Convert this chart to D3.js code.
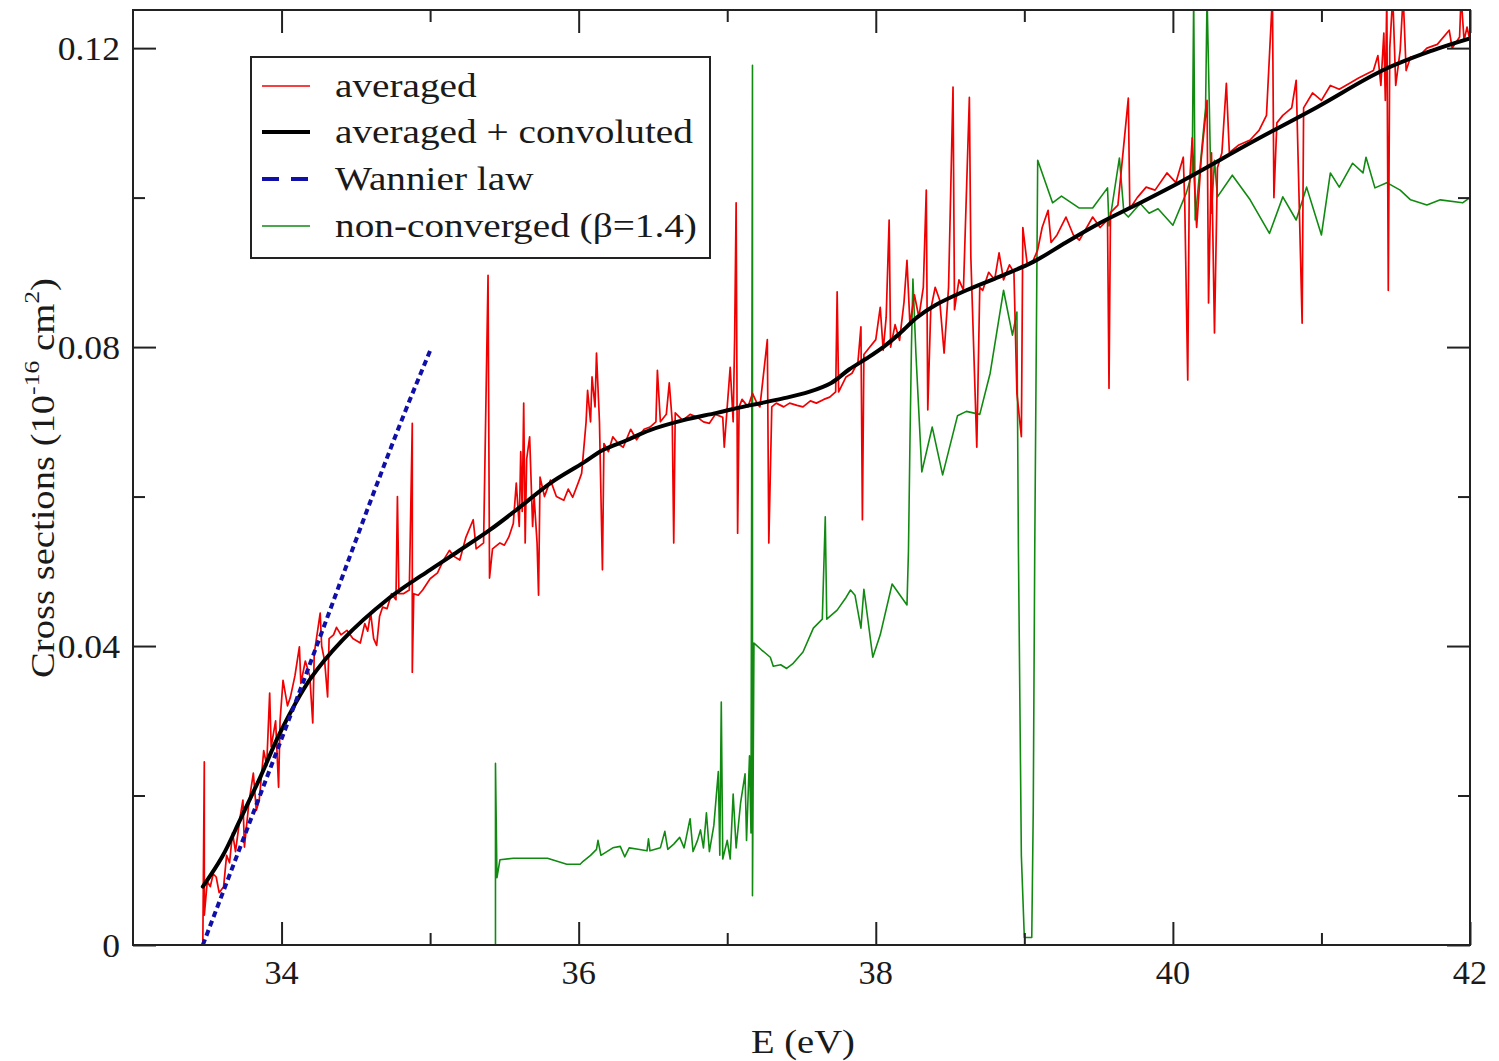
<!DOCTYPE html>
<html>
<head>
<meta charset="utf-8">
<script src="https://cdn.jsdelivr.net/npm/d3@7"></script>
<style>
  html, body { margin: 0; padding: 0; background: #fff; }
  svg { display: block; }
  text { font-family: "Liberation Serif", "DejaVu Serif", serif; fill: #1a1a1a; }
</style>
</head>
<body>
<svg id="chart" width="1499" height="1061"></svg>
<script>
// ---------------- data ----------------
const xTicksMajor = [34, 36, 38, 40, 42];
const xTicksMinor = [35, 37, 39, 41];
const yTicksMajor = [0, 0.04, 0.08, 0.12];
const yTicksMinor = [0.02, 0.06, 0.10];
const yTickLabels = ["0", "0.04", "0.08", "0.12"];

const legendLabels = ["averaged", "averaged + convoluted", "Wannier law", "non-converged (\u03B2=1.4)"];

// averaged (red)  [E (eV), cross section]
const averaged = [
 [33.47,0.000],[33.48,0.0245],[33.48,0.004],[33.50,0.0085],[33.52,0.0078],[33.54,0.0095],[33.56,0.0091],
 [33.58,0.0070],[33.61,0.0078],[33.63,0.0120],[33.65,0.0110],[33.67,0.0150],[33.69,0.0125],[33.72,0.0170],
 [33.74,0.0194],[33.75,0.0131],[33.78,0.0190],[33.81,0.0230],[33.83,0.0180],[33.85,0.0194],[33.88,0.0260],
 [33.90,0.0240],[33.92,0.0337],[33.93,0.0265],[33.96,0.0300],[33.98,0.0211],[33.99,0.0300],[34.01,0.0354],
 [34.04,0.0320],[34.06,0.0332],[34.09,0.0360],[34.12,0.0399],[34.13,0.0350],[34.16,0.0380],[34.19,0.0360],
 [34.21,0.0297],[34.22,0.0390],[34.24,0.0417],[34.26,0.0444],[34.27,0.0400],[34.29,0.0380],[34.31,0.0332],
 [34.32,0.0410],[34.35,0.0415],[34.37,0.0425],[34.40,0.0415],[34.44,0.0421],[34.48,0.0410],[34.53,0.0404],
 [34.56,0.0430],[34.58,0.0420],[34.60,0.0444],[34.62,0.0410],[34.64,0.0401],[34.66,0.0440],[34.68,0.0452],
 [34.71,0.0450],[34.74,0.0470],[34.77,0.0462],[34.78,0.0600],[34.79,0.0470],[34.82,0.0470],[34.86,0.0475],
 [34.88,0.0698],[34.88,0.0365],[34.89,0.0470],[34.92,0.0468],[34.95,0.0475],[35.00,0.0490],[35.05,0.0498],
 [35.09,0.0515],[35.13,0.0528],[35.16,0.0520],[35.20,0.0515],[35.24,0.0545],[35.29,0.0569],[35.31,0.0530],
 [35.36,0.0538],[35.39,0.0896],[35.40,0.0491],[35.42,0.0530],[35.47,0.0538],[35.50,0.0535],[35.53,0.0546],
 [35.56,0.0564],[35.58,0.0618],[35.60,0.0560],[35.61,0.0660],[35.62,0.0580],[35.63,0.0725],[35.64,0.0538],
 [35.65,0.0650],[35.67,0.0680],[35.69,0.0560],[35.70,0.0600],[35.72,0.0538],[35.73,0.0468],[35.74,0.0626],
 [35.77,0.0600],[35.81,0.0622],[35.85,0.0600],[35.90,0.0595],[35.93,0.0610],[35.96,0.0599],[36.00,0.0620],
 [36.02,0.0631],[36.05,0.0700],[36.06,0.0742],[36.08,0.0700],[36.09,0.0760],[36.11,0.0720],[36.12,0.0792],
 [36.14,0.0700],[36.16,0.0502],[36.17,0.0671],[36.20,0.0660],[36.23,0.0680],[36.27,0.0670],[36.30,0.0666],
 [36.35,0.0690],[36.39,0.0676],[36.44,0.0690],[36.48,0.0693],[36.52,0.0700],[36.53,0.0769],[36.55,0.0700],
 [36.59,0.0710],[36.61,0.0752],[36.63,0.0700],[36.64,0.0538],[36.65,0.0712],[36.70,0.0702],[36.75,0.0710],
 [36.80,0.0706],[36.84,0.0700],[36.88,0.0698],[36.92,0.0710],[36.97,0.0706],[36.98,0.0666],[37.00,0.0720],
 [37.02,0.0773],[37.04,0.0700],[37.05,0.0813],[37.06,0.0993],[37.07,0.0551],[37.08,0.0720],[37.10,0.0730],
 [37.14,0.0720],[37.17,0.0738],[37.20,0.0725],[37.22,0.0720],[37.27,0.0810],[37.28,0.0538],[37.30,0.0720],
 [37.33,0.0725],[37.38,0.0720],[37.42,0.0725],[37.47,0.0722],[37.51,0.0720],[37.56,0.0728],[37.60,0.0725],
 [37.65,0.0730],[37.69,0.0733],[37.73,0.0740],[37.74,0.0874],[37.75,0.0740],[37.80,0.0760],[37.84,0.0765],
 [37.88,0.0780],[37.90,0.0827],[37.91,0.0569],[37.92,0.0790],[37.96,0.0800],[38.00,0.0810],[38.03,0.0853],
 [38.05,0.0796],[38.07,0.0840],[38.09,0.0970],[38.10,0.0800],[38.13,0.0830],[38.16,0.0809],[38.19,0.0860],
 [38.21,0.0916],[38.23,0.0830],[38.26,0.0870],[38.29,0.0840],[38.32,0.0880],[38.34,0.1010],[38.35,0.0716],
 [38.37,0.0850],[38.40,0.0880],[38.43,0.0863],[38.46,0.0792],[38.49,0.0880],[38.52,0.1148],[38.53,0.0850],
 [38.56,0.0890],[38.59,0.0876],[38.63,0.1134],[38.64,0.0920],[38.68,0.0666],[38.70,0.0880],[38.72,0.0876],
 [38.76,0.0900],[38.80,0.0890],[38.83,0.0926],[38.86,0.0890],[38.90,0.0910],[38.93,0.0900],[38.95,0.0738],
 [38.98,0.0680],[38.99,0.0960],[39.02,0.0910],[39.06,0.0916],[39.09,0.0930],[39.12,0.0960],[39.16,0.0983],
 [39.18,0.0940],[39.22,0.0950],[39.28,0.0974],[39.33,0.0950],[39.37,0.0943],[39.42,0.0960],[39.46,0.0974],
 [39.51,0.0960],[39.56,0.0970],[39.57,0.0745],[39.58,0.0980],[39.63,0.0990],[39.70,0.1133],[39.71,0.0985],
 [39.76,0.1000],[39.82,0.1014],[39.88,0.1010],[39.96,0.1033],[40.02,0.1020],[40.07,0.1054],[40.08,0.0990],
 [40.10,0.0756],[40.11,0.1010],[40.13,0.1080],[40.16,0.0960],[40.19,0.1050],[40.23,0.1130],[40.24,0.0859],
 [40.26,0.1060],[40.28,0.0819],[40.30,0.1040],[40.33,0.1060],[40.36,0.1153],[40.38,0.1060],[40.44,0.1070],
 [40.52,0.1077],[40.58,0.1090],[40.63,0.1110],[40.67,0.1270],[40.68,0.1000],[40.70,0.1100],[40.74,0.1110],
 [40.80,0.1120],[40.83,0.1157],[40.87,0.0832],[40.88,0.1120],[40.94,0.1140],[41.00,0.1130],[41.06,0.1150],
 [41.12,0.1145],[41.19,0.1153],[41.25,0.1160],[41.30,0.1165],[41.35,0.1170],[41.38,0.1190],[41.40,0.1150],
 [41.42,0.1220],[41.43,0.1130],[41.44,0.1270],[41.45,0.0876],[41.46,0.1200],[41.48,0.1270],[41.50,0.1150],
 [41.53,0.1197],[41.55,0.1270],[41.57,0.1170],[41.60,0.1188],[41.66,0.1190],[41.71,0.1200],[41.78,0.1205],
 [41.86,0.1224],[41.88,0.1200],[41.93,0.1215],[41.94,0.1270],[41.96,0.1210],[41.98,0.1228],[42.00,0.1210]
];

// averaged + convoluted (black)
const convoluted = [
 [33.47,0.0078],[33.60,0.0118],[33.72,0.0167],[33.86,0.0226],[33.99,0.0284],[34.19,0.0355],[34.41,0.0408],
 [34.71,0.0462],[35.00,0.0502],[35.13,0.0519],[35.40,0.0555],[35.58,0.0582],[35.81,0.0618],[36.03,0.0645],
 [36.16,0.0662],[36.32,0.0675],[36.48,0.0689],[36.70,0.0702],[36.93,0.0712],[37.15,0.0722],[37.37,0.0731],
 [37.55,0.0740],[37.70,0.0752],[37.82,0.0770],[37.94,0.0785],[38.05,0.0800],[38.16,0.0818],[38.28,0.0840],
 [38.40,0.0856],[38.61,0.0876],[38.83,0.0894],[39.06,0.0914],[39.28,0.0940],[39.50,0.0965],[39.75,0.0990],
 [40.07,0.1023],[40.52,0.1073],[40.97,0.1121],[41.41,0.1170],[41.75,0.1197],[42.00,0.1213]
];

// Wannier law (blue dashed)
const wannier = [[33.47,0.0],[34.10,0.0328],[34.91,0.0752],[35.00,0.0795]];

// non-converged (beta=1.4) (green)
const nonConverged = [
 [35.44,0.0],[35.44,0.0243],[35.45,0.0090],[35.47,0.0114],[35.56,0.0116],[35.79,0.0116],[35.92,0.0108],
 [36.01,0.0108],[36.03,0.0112],[36.08,0.0120],[36.12,0.0128],[36.13,0.0140],[36.15,0.0120],[36.23,0.0130],
 [36.28,0.0132],[36.31,0.0118],[36.34,0.0130],[36.40,0.0128],[36.46,0.0126],[36.47,0.0142],[36.48,0.0126],
 [36.55,0.0130],[36.58,0.0152],[36.60,0.0128],[36.64,0.0135],[36.68,0.0144],[36.71,0.0130],[36.75,0.0169],
 [36.77,0.0125],[36.80,0.0140],[36.82,0.0154],[36.84,0.0130],[36.86,0.0177],[36.88,0.0125],[36.91,0.0160],
 [36.94,0.0232],[36.95,0.0120],[36.96,0.0325],[36.97,0.0115],[37.00,0.0140],[37.02,0.0115],[37.04,0.0202],
 [37.06,0.0130],[37.09,0.0190],[37.12,0.0229],[37.13,0.0140],[37.15,0.0253],[37.16,0.0150],[37.17,0.1177],
 [37.17,0.0066],[37.18,0.0404],[37.23,0.0395],[37.29,0.0385],[37.31,0.0373],[37.36,0.0375],[37.40,0.0370],
 [37.44,0.0376],[37.51,0.0392],[37.58,0.0424],[37.64,0.0436],[37.66,0.0573],[37.67,0.0436],[37.74,0.0448],
 [37.80,0.0465],[37.83,0.0475],[37.86,0.0468],[37.90,0.0424],[37.92,0.0476],[37.98,0.0385],[38.03,0.0415],
 [38.11,0.0483],[38.21,0.0455],[38.22,0.0527],[38.23,0.0672],[38.24,0.0799],[38.25,0.0891],[38.27,0.0792],
 [38.31,0.0633],[38.38,0.0693],[38.45,0.0629],[38.55,0.0708],[38.61,0.0714],[38.70,0.0710],[38.77,0.0765],
 [38.86,0.0876],[38.92,0.0816],[38.95,0.0847],[38.96,0.0534],[38.98,0.0119],[39.00,0.0010],[39.05,0.0010],
 [39.06,0.0180],[39.07,0.0527],[39.09,0.1050],[39.19,0.0993],[39.25,0.1002],[39.37,0.0986],[39.46,0.0986],
 [39.56,0.1013],[39.57,0.0962],[39.64,0.1053],[39.67,0.0980],[39.70,0.0974],[39.78,0.0992],[39.84,0.0979],
 [39.90,0.0985],[40.00,0.0963],[40.09,0.1006],[40.13,0.1033],[40.14,0.1270],[40.15,0.0970],[40.22,0.1120],
 [40.23,0.1270],[40.26,0.0979],[40.28,0.1050],[40.30,0.1001],[40.40,0.1030],[40.52,0.0997],[40.65,0.0952],
 [40.74,0.1001],[40.83,0.0970],[40.90,0.1014],[41.00,0.0950],[41.06,0.1033],[41.12,0.1014],[41.21,0.1046],
 [41.28,0.1033],[41.30,0.1054],[41.36,0.1013],[41.44,0.1020],[41.53,0.1010],[41.60,0.0997],[41.71,0.0990],
 [41.80,0.0997],[41.95,0.0993],[42.00,0.1000]
];

// ---------------- drawing ----------------
const svg = d3.select("#chart");
const L = 133, R = 1470, T = 10, B = 945;
const x = d3.scaleLinear().domain([33, 42]).range([L, R]);
const y = d3.scaleLinear().domain([0, 0.1251]).range([B, T]);

const colors = { red: "#f00000", black: "#000000", blue: "#1010a8", green: "#118a11" };

svg.append("defs").append("clipPath").attr("id", "clip")
  .append("rect").attr("x", L).attr("y", T).attr("width", R - L).attr("height", B - T);

const plot = svg.append("g").attr("clip-path", "url(#clip)");
const line = d3.line().x(d => x(d[0])).y(d => y(d[1]));

plot.append("path").datum(nonConverged).attr("d", line)
  .attr("fill", "none").attr("stroke", colors.green).attr("stroke-width", 1.6).attr("stroke-linejoin", "round");
plot.append("path").datum(averaged).attr("d", line)
  .attr("fill", "none").attr("stroke", colors.red).attr("stroke-width", 1.7).attr("stroke-linejoin", "round");
plot.append("path").datum(convoluted)
  .attr("d", d3.line().x(d => x(d[0])).y(d => y(d[1])).curve(d3.curveCatmullRom.alpha(0.5)))
  .attr("fill", "none").attr("stroke", colors.black).attr("stroke-width", 4).attr("stroke-linecap", "round");
plot.append("path").datum(wannier).attr("d", d3.line().x(d => x(d[0])).y(d => y(d[1])).curve(d3.curveMonotoneX))
  .attr("fill", "none").attr("stroke", colors.blue).attr("stroke-width", 4).attr("stroke-dasharray", "6,4");

// frame
svg.append("rect").attr("x", L).attr("y", T).attr("width", R - L).attr("height", B - T)
  .attr("fill", "none").attr("stroke", "#222").attr("stroke-width", 2);

// ticks (inward, all four sides) via d3 axes
const major = 23, minor = 12;
function tickAxis(axisFn, scale, vals, len, transform) {
  const g = svg.append("g").attr("transform", transform)
    .call(axisFn(scale).tickValues(vals).tickSize(len).tickFormat(""));
  g.select(".domain").remove();
  g.selectAll(".tick line").attr("stroke", "#222").attr("stroke-width", 2);
  return g;
}
tickAxis(d3.axisTop, x, xTicksMajor, major, `translate(0,${B})`);
tickAxis(d3.axisTop, x, xTicksMinor, minor, `translate(0,${B})`);
tickAxis(d3.axisBottom, x, xTicksMajor, major, `translate(0,${T})`);
tickAxis(d3.axisBottom, x, xTicksMinor, minor, `translate(0,${T})`);
tickAxis(d3.axisRight, y, yTicksMajor, major, `translate(${L},0)`);
tickAxis(d3.axisRight, y, yTicksMinor, minor, `translate(${L},0)`);
tickAxis(d3.axisLeft, y, yTicksMajor, major, `translate(${R},0)`);
tickAxis(d3.axisLeft, y, yTicksMinor, minor, `translate(${R},0)`);

// tick labels
const fs = 33;
const stretch = 1.17;
svg.append("g").selectAll("text").data(xTicksMajor).join("text")
  .attr("transform", d => `translate(${x(d)},${B + 39}) scale(1.04,1)`).attr("text-anchor", "middle")
  .attr("font-size", fs).text(d => d);
svg.append("g").selectAll("text").data(yTicksMajor).join("text")
  .attr("transform", d => `translate(${L - 13},${y(d)}) scale(1.08,1)`).attr("dy", "0.35em").attr("text-anchor", "end")
  .attr("font-size", fs).text((d, i) => yTickLabels[i]);

// axis titles
svg.append("text").attr("transform", `translate(803,1053) scale(${stretch},1)`).attr("text-anchor", "middle")
  .attr("font-size", fs).text("E (eV)");

const yt = svg.append("text").attr("transform", `translate(54,478) rotate(-90) scale(${stretch},1)`)
  .attr("text-anchor", "middle").attr("font-size", fs);
yt.append("tspan").text("Cross sections (10");
yt.append("tspan").attr("font-size", 22).attr("dy", -15).text("-16");
yt.append("tspan").attr("dy", 15).text(" cm");
yt.append("tspan").attr("font-size", 22).attr("dy", -15).text("2");
yt.append("tspan").attr("dy", 15).text(")");

// legend
const lg = svg.append("g");
lg.append("rect").attr("x", 251).attr("y", 57).attr("width", 459).attr("height", 201)
  .attr("fill", "#fff").attr("stroke", "#222").attr("stroke-width", 2);
const legendStyles = [
  { c: colors.red, w: 1.6, dash: null },
  { c: colors.black, w: 4, dash: null },
  { c: colors.blue, w: 4, dash: "17,12" },
  { c: colors.green, w: 1.6, dash: null }
];
const rowY = [86, 132, 179, 226];
legendLabels.forEach((lab, i) => {
  const s = legendStyles[i];
  const ln = lg.append("line").attr("x1", 262).attr("x2", 310).attr("y1", rowY[i]).attr("y2", rowY[i])
    .attr("stroke", s.c).attr("stroke-width", s.w);
  if (s.dash) ln.attr("stroke-dasharray", s.dash);
  lg.append("text").attr("transform", `translate(335,${rowY[i]}) scale(1.19,1)`).attr("dy", "0.32em")
    .attr("font-size", fs).text(lab);
});
</script>
</body>
</html>
